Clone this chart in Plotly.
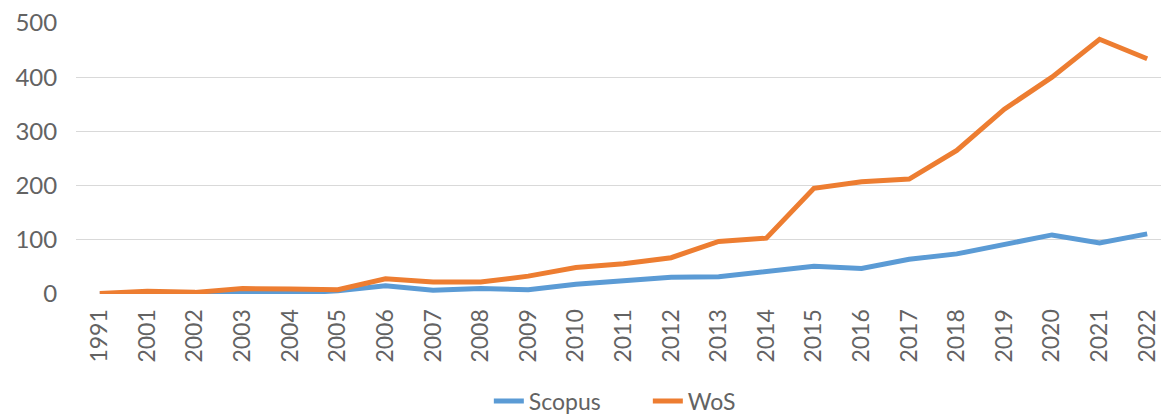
import plotly.graph_objects as go

years = ["1991"] + [str(y) for y in range(2001, 2023)]
scopus = [0, 1, 1, 2, 1, 6, 15, 7, 10, 8, 18, 24, 31, 32, 42, 51, 47, 64, 74, 91, 109, 94, 111]
wos = [1, 5, 3, 10, 9, 8, 28, 22, 22, 33, 49, 56, 67, 97, 103, 195, 207, 212, 265, 341, 400, 470, 434]
y_ticks = [0, 100, 200, 300, 400, 500]

font_fam = "Lato, Open Sans, sans-serif"
grey = "#636363"

fig = go.Figure()
fig.add_trace(go.Scatter(x=years, y=scopus, name="Scopus", mode="lines",
                         line=dict(color="#5B9BD5", width=5)))
fig.add_trace(go.Scatter(x=years, y=wos, name="WoS", mode="lines",
                         line=dict(color="#ED7D31", width=5)))

fig.update_layout(
    width=1161, height=416,
    margin=dict(l=76, r=0, t=23, b=122),
    paper_bgcolor="white", plot_bgcolor="white",
    font=dict(family=font_fam, size=22, color=grey),
    showlegend=True,
    legend=dict(orientation="h", xref="container", yref="container",
                x=0.558, xanchor="center", y=0.036, yanchor="middle",
                entrywidth=114, font=dict(size=23, color=grey), tracegroupgap=0),
)
fig.update_xaxes(type="category", range=[-0.5, 22.29], tickangle=-90, automargin=False,
                 showgrid=False, showline=False, zeroline=False,
                 ticks="outside", ticklen=5, tickcolor="rgba(0,0,0,0)",
                 tickfont=dict(size=23, color=grey))
fig.update_yaxes(range=[0, 500], tickvals=y_ticks, showgrid=True, gridcolor="#D9D9D9",
                 gridwidth=1.3, zeroline=False, showline=False, automargin=False,
                 ticks="outside", ticklen=13, tickcolor="rgba(0,0,0,0)",
                 tickfont=dict(size=24, color=grey))

fig.write_html("out.html", config={"displayModeBar": False},
               post_script="document.body.style.margin='0';document.body.style.overflow='hidden';")
